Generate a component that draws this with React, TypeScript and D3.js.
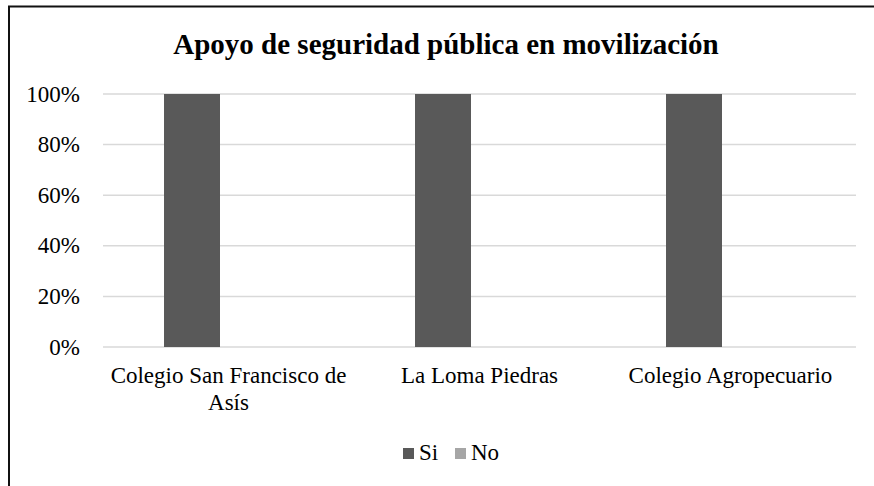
import * as d3 from "d3";

const categories = ["Colegio San Francisco de As\u00eds", "La Loma Piedras", "Colegio Agropecuario"];
const categoryLines = [["Colegio San Francisco de", "As\u00eds"], ["La Loma Piedras"], ["Colegio Agropecuario"]];
const seriesNames = ["Si", "No"];
const siValues = [1, 1, 1];
const noValues = [0, 0, 0];
const yTicks = [0, 0.2, 0.4, 0.6, 0.8, 1];
const seriesColors = ["#595959", "#a6a6a6"];
const title = "Apoyo de seguridad p\u00fablica en movilizaci\u00f3n";

const width = 874;
const height = 486;
const marginLeft = 103;
const marginRight = 18;
const plotTop = 94;
const plotBottom = 347;

const css = `
  .chart text { font-family: "Liberation Serif", "Times New Roman", serif !important; fill: #000; }
  .chart .title { font-weight: bold; }
`;

export default function App() {
  const x = d3.scaleBand<string>()
    .domain(categories)
    .range([marginLeft, width - marginRight])
    .padding(0);

  const xInner = d3.scaleBand<string>()
    .domain(seriesNames)
    .range([0, x.bandwidth()])
    .paddingInner(0.233)
    .paddingOuter(0.836);

  const y = d3.scaleLinear().domain([0, 1]).range([plotBottom, plotTop]);
  const fmt = d3.format(".0%");

  const rows = categories.map((c, i) => ({ cat: c, values: [siValues[i], noValues[i]] }));
  const legendPos = [403, 455];

  return (
    <svg className="chart" width={width} height={height}
      style={{ position: "absolute", left: 0, top: 0, background: "#fff" }}>
      <style>{css}</style>

      {/* chart frame, cropped on the right and bottom */}
      <path d={`M9,${height} L9,6.5 L${width},6.5`} fill="none" stroke="#111" strokeWidth={2} />

      {yTicks.map(t => (
        <line key={"g" + t} x1={marginLeft} x2={width - marginRight} y1={y(t)} y2={y(t)}
          stroke="#d9d9d9" strokeWidth={1.5} />
      ))}

      {yTicks.map(t => (
        <text key={"t" + t} x={80} y={y(t) + 7.5} textAnchor="end" fontSize={23}>
          {fmt(t)}
        </text>
      ))}

      {rows.map(r => (
        <g key={r.cat} transform={`translate(${x(r.cat)},0)`}>
          {r.values.map((v, j) => (
            <rect key={seriesNames[j]} x={xInner(seriesNames[j])} width={xInner.bandwidth()}
              y={y(v)} height={y(0) - y(v)} fill={seriesColors[j]} />
          ))}
        </g>
      ))}

      {categories.map((c, i) => {
        const cx = x(c)! + x.bandwidth() / 2;
        return (
          <text key={c} x={cx} y={383} textAnchor="middle" fontSize={23}>
            {categoryLines[i].map((line, k) => (
              <tspan key={k} x={cx} dy={k === 0 ? 0 : 27}>{line}</tspan>
            ))}
          </text>
        );
      })}

      <text className="title" x={446} y={54} textAnchor="middle" fontSize={29}>
        {title}
      </text>

      {seriesNames.map((name, i) => (
        <g key={name}>
          <rect x={legendPos[i]} y={448} width={11} height={11} fill={seriesColors[i]} />
          <text x={legendPos[i] + 16} y={460} fontSize={23}>{name}</text>
        </g>
      ))}
    </svg>
  );
}
